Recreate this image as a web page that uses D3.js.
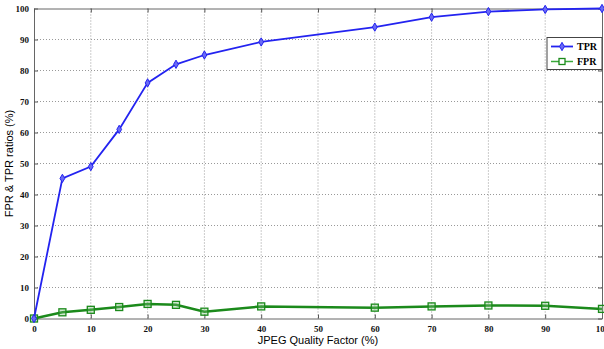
<!DOCTYPE html>
<html>
<head>
<meta charset="utf-8">
<script src="https://cdn.jsdelivr.net/npm/d3@7"></script>
<style>
  body { margin: 0; background: #fff; }
  svg { display: block; }
  .tick text { font-family: "Liberation Serif", "DejaVu Serif", serif; font-weight: bold; font-size: 9px; fill: #111; }
</style>
</head>
<body>
<figure id="chart" style="margin:0"></figure>
<script>
// values
const quality = [0, 5, 10, 15, 20, 25, 30, 40, 60, 70, 80, 90, 100];
const tpr = [0, 45.2, 49, 61, 76, 82, 85, 89.2, 94, 97.2, 99, 99.7, 100];
const fpr = [0, 2.0, 2.8, 3.7, 4.7, 4.4, 2.2, 3.9, 3.5, 3.9, 4.2, 4.1, 3.1];
const xTicks = [0, 10, 20, 30, 40, 50, 60, 70, 80, 90, 100];
const yTicks = [0, 10, 20, 30, 40, 50, 60, 70, 80, 90, 100];

const W = 604, H = 349;
const margin = { left: 34, top: 8.5, right: 2, bottom: 30.5 };
const width = W - margin.left - margin.right;
const height = H - margin.top - margin.bottom;

const svg = d3.select("figure#chart")
  .append("svg")
  .attr("width", W)
  .attr("height", H);

const g = svg.append("g")
  .attr("transform", "translate(" + margin.left + "," + margin.top + ")");

const x = d3.scaleLinear().domain([0, 100]).range([0, width]);
const y = d3.scaleLinear().domain([0, 100]).range([height, 0]);

// dotted grid
g.append("g")
  .selectAll("line")
  .data(xTicks.slice(1, -1))
  .enter().append("line")
  .attr("x1", d => x(d)).attr("x2", d => x(d))
  .attr("y1", 0).attr("y2", height)
  .attr("stroke", "#999").attr("stroke-width", 1)
  .attr("stroke-dasharray", "1,2");

g.append("g")
  .selectAll("line")
  .data(yTicks.slice(1, -1))
  .enter().append("line")
  .attr("x1", 0).attr("x2", width)
  .attr("y1", d => y(d)).attr("y2", d => y(d))
  .attr("stroke", "#999").attr("stroke-width", 1)
  .attr("stroke-dasharray", "1,2");

// axes (inward ticks, matlab style)
g.append("g")
  .attr("transform", "translate(0," + height + ")")
  .call(d3.axisBottom(x).tickValues(xTicks).tickSizeInner(-4).tickSizeOuter(0).tickPadding(7));
g.append("g")
  .call(d3.axisLeft(y).tickValues(yTicks).tickSizeInner(-4).tickSizeOuter(0).tickPadding(5));
g.append("g")
  .call(d3.axisTop(x).tickValues(xTicks).tickSizeInner(-4).tickSizeOuter(0).tickFormat(""));
g.append("g")
  .attr("transform", "translate(" + width + ",0)")
  .call(d3.axisRight(y).tickValues(yTicks).tickSizeInner(-4).tickSizeOuter(0).tickFormat(""));
g.selectAll(".domain").attr("stroke", "#666");
g.selectAll(".tick line").attr("stroke", "#555");

// lines
const tprData = quality.map((q, i) => ({ q: q, v: tpr[i] }));
const fprData = quality.map((q, i) => ({ q: q, v: fpr[i] }));
const line = d3.line().x(d => x(d.q)).y(d => y(d.v));

const blue = "#2323f0", green = "#1b8a1b";

g.append("path").datum(fprData)
  .attr("d", line).attr("fill", "none")
  .attr("stroke", green).attr("stroke-width", 2.5);
g.selectAll(".sq").data(fprData).enter().append("rect")
  .attr("x", d => x(d.q) - 3.5).attr("y", d => y(d.v) - 3.5)
  .attr("width", 7).attr("height", 7)
  .attr("fill", "#7fbf7f").attr("fill-opacity", 0.35)
  .attr("stroke", green).attr("stroke-width", 1.3);

g.append("path").datum(tprData)
  .attr("d", line).attr("fill", "none")
  .attr("stroke", blue).attr("stroke-width", 1.8);
const diamond = d3.symbol().type(d3.symbolDiamond).size(20);
g.selectAll(".dm").data(tprData).enter().append("path")
  .attr("d", diamond)
  .attr("transform", d => "translate(" + x(d.q) + "," + y(d.v) + ")")
  .attr("fill", "#6a6af5").attr("stroke", blue).attr("stroke-width", 1);

// legend
const lg = svg.append("g").attr("transform", "translate(547,37.5)");
lg.append("rect").attr("width", 55).attr("height", 32)
  .attr("fill", "#fff").attr("stroke", "#444").attr("stroke-width", 1);
lg.append("line").attr("x1", 4).attr("x2", 26).attr("y1", 9).attr("y2", 9)
  .attr("stroke", blue).attr("stroke-width", 1.8);
lg.append("path").attr("d", diamond).attr("transform", "translate(15,9)")
  .attr("fill", "#6a6af5").attr("stroke", blue);
lg.append("line").attr("x1", 4).attr("x2", 26).attr("y1", 24).attr("y2", 24)
  .attr("stroke", "#3aaa3a").attr("stroke-width", 1.5);
lg.append("rect").attr("x", 12).attr("y", 21).attr("width", 6).attr("height", 6)
  .attr("fill", "#fff").attr("stroke", green).attr("stroke-width", 1.3);
lg.append("text").attr("x", 30).attr("y", 12.5).text("TPR")
  .style("font-family", "Liberation Serif, serif").style("font-size", "10px").style("font-weight", "bold");
lg.append("text").attr("x", 30).attr("y", 27.5).text("FPR")
  .style("font-family", "Liberation Serif, serif").style("font-size", "10px").style("font-weight", "bold");

// axis titles
svg.append("text")
  .attr("x", margin.left + x(50)).attr("y", 344)
  .attr("text-anchor", "middle")
  .style("font-family", "Liberation Sans, Arial, sans-serif").style("font-size", "11px")
  .text("JPEG Quality Factor (%)");
svg.append("text")
  .attr("transform", "translate(13," + (margin.top + height / 2) + ")rotate(-90)")
  .attr("text-anchor", "middle")
  .style("font-family", "Liberation Sans, Arial, sans-serif").style("font-size", "11px")
  .text("FPR & TPR ratios (%)");
</script>
</body>
</html>
